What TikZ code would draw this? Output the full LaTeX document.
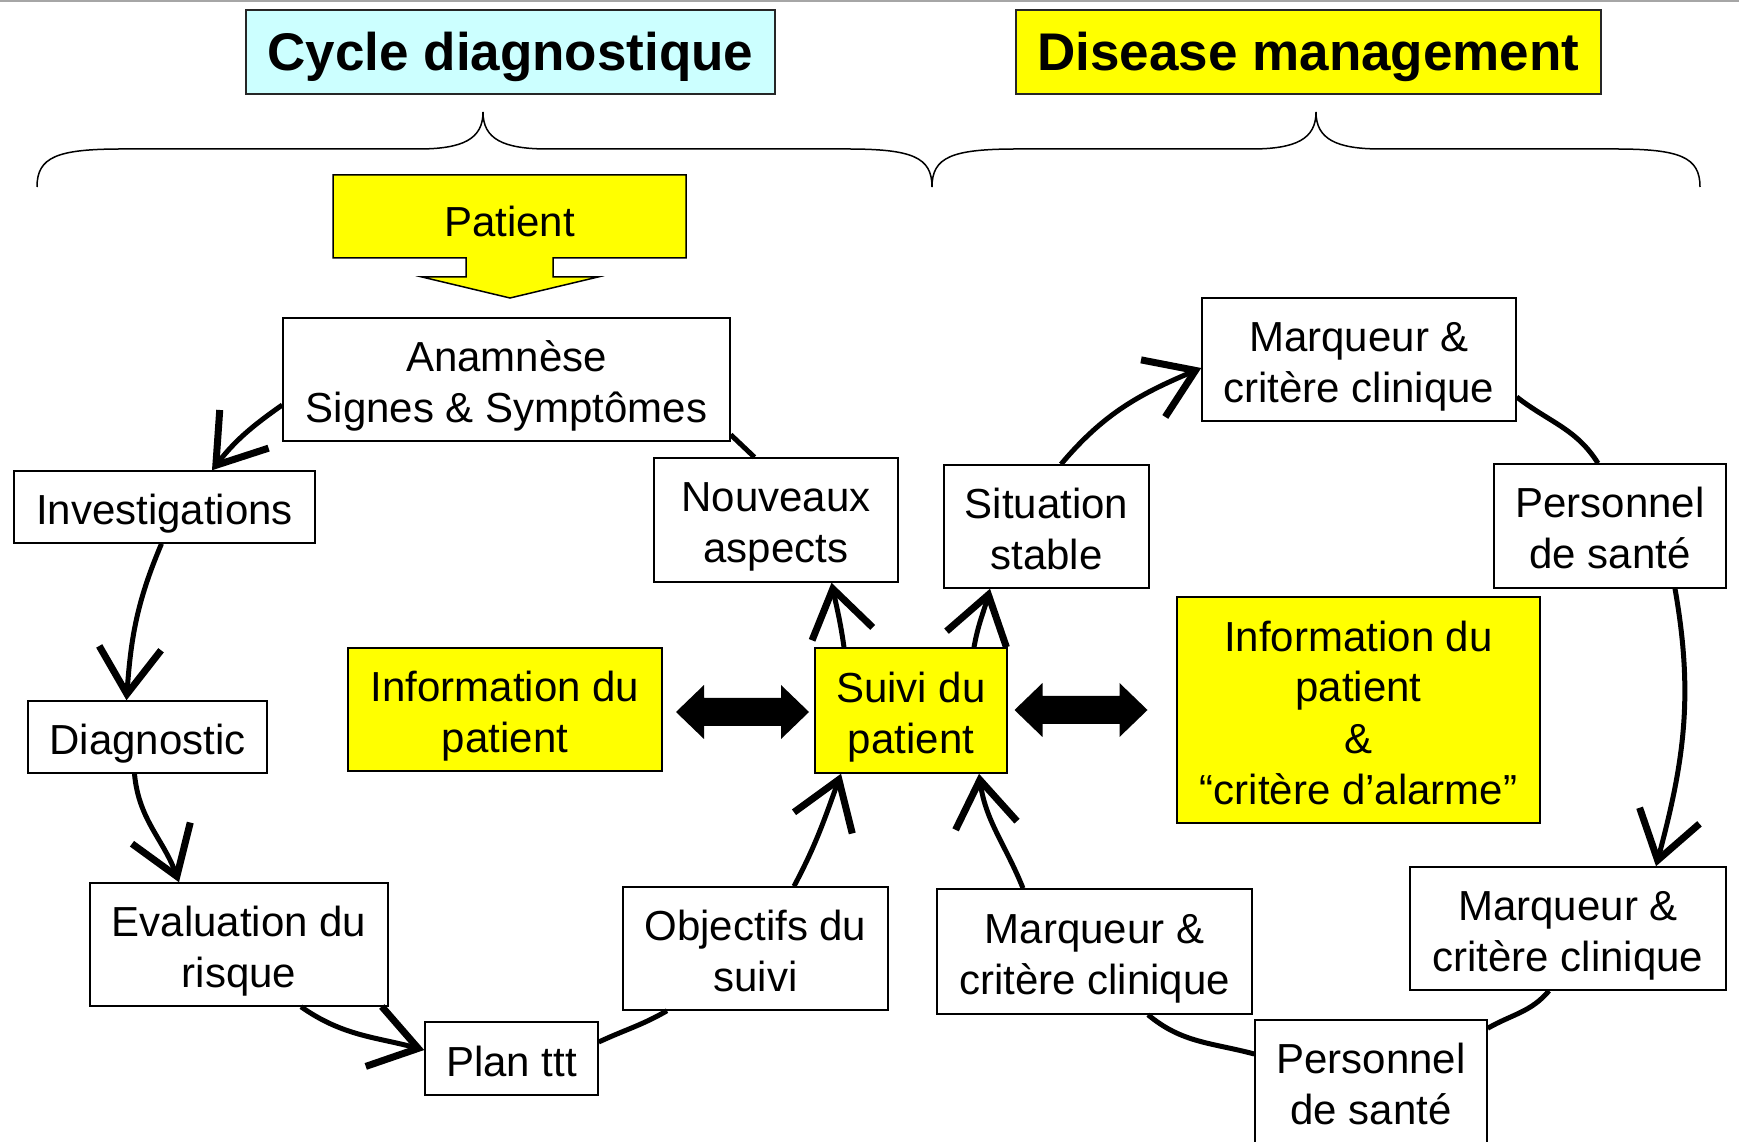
\documentclass[tikz,border=0pt]{standalone}
\usepackage{fontspec}
\setmainfont{Liberation Sans}
\usepackage{tikz}
\usetikzlibrary{arrows.meta, shapes, positioning, calc}
\usepackage{xcolor}
\definecolor{palecyan}{RGB}{204,255,255}
\definecolor{signalyellow}{RGB}{255,255,0}
\tikzset{strutheight/.style={execute at begin node={\rule[-9pt]{0pt}{#1}}},
bodytext/.style={font=\fontsize{42pt}{51pt}\selectfont},
plainbox/.style={rectangle, draw=black, line width=1.5pt, fill=white, inner sep=0pt, align=center, bodytext, strutheight=53pt},
yellowbox/.style={plainbox, fill=signalyellow}}
\tikzset{headerbox/.style={rectangle, draw=black!85, line width=2.5pt, inner sep=0pt, font=\fontsize{53pt}{60pt}\selectfont\bfseries, execute at begin node={\rule[-11pt]{0pt}{58.6pt}}}}
\tikzset{cyclearrow/.style={line width=5pt, -{Straight Barb[length=46pt, width=62pt, line width=7pt]}},
cycleline/.style={line width=5pt}}

\begin{document}
\begin{tikzpicture}[line join=miter]
        \useasboundingbox (0pt, 0pt) rectangle (1739pt, 1141pt);
        % Frame
        \draw[gray!70, line width=2.5pt] (0pt, 1140pt) -- (1739pt, 1140pt);
        % Headers
        \node[headerbox, fill=palecyan, minimum width=529pt, minimum height=84pt] (cycle) at (510.5pt, 1089pt) {Cycle diagnostique};
        \node[headerbox, fill=signalyellow, minimum width=585pt, minimum height=84pt] (management) at (1308.5pt, 1089pt) {Disease management};
        % Braces
        \foreach \a/\m/\b in {37/483/932, 932/1316/1700} {
            \draw[line width=1.5pt] (\a pt, 954pt) .. controls (\a pt, 984pt) and ({\a pt+20pt}, 992pt) .. ({\a pt+85pt}, 992pt) -- ({\m pt-65pt}, 992pt) .. controls ({\m pt-20pt}, 992pt) and (\m pt, 1002pt) .. (\m pt, 1029pt) .. controls (\m pt, 1002pt) and ({\m pt+20pt}, 992pt) .. ({\m pt+65pt}, 992pt) -- ({\b pt-85pt}, 992pt) .. controls ({\b pt-20pt}, 992pt) and (\b pt, 984pt) .. (\b pt, 954pt);
        }
        % Patient arrow
        \filldraw[fill=signalyellow, draw=black, line width=1.5pt] (333pt, 966pt) -- (686pt, 966pt) -- (686pt, 883pt) -- (553pt, 883pt) -- (553pt, 864pt) -- (598pt, 864pt) -- (510pt, 843pt) -- (422pt, 864pt) -- (466pt, 864pt) -- (466pt, 883pt) -- (333pt, 883pt) -- cycle;
        \node[bodytext, inner sep=0pt, strutheight=58pt] (patient) at (509.5pt, 924.5pt) {Patient};
        % Diagnostic cycle
        \node[plainbox, strutheight=104pt, minimum width=447pt, minimum height=123pt] (anamnese) at (506.5pt, 761.5pt) {Anamnèse\\Signes \& Symptômes};
        \node[plainbox, minimum width=301pt, minimum height=72pt] (investigations) at (164.5pt, 634pt) {Investigations};
        \node[plainbox, minimum width=239pt, minimum height=72pt] (diagnostic) at (147.5pt, 404pt) {Diagnostic};
        \node[plainbox, strutheight=104pt, minimum width=298pt, minimum height=123pt] (evaluation) at (239pt, 196.5pt) {Evaluation du\\risque};
        \node[plainbox, minimum width=173pt, minimum height=73pt] (plan) at (511.5pt, 82.5pt) {Plan ttt};
        \node[plainbox, strutheight=104pt, minimum width=265pt, minimum height=123pt] (objectifs) at (755.5pt, 192.5pt) {Objectifs du\\suivi};
        \node[plainbox, strutheight=104pt, minimum width=244pt, minimum height=124pt] (nouveaux) at (776pt, 621pt) {Nouveaux\\aspects};
        \node[yellowbox, strutheight=104pt, minimum width=314pt, minimum height=123pt] (infoleft) at (505pt, 431.5pt) {Information du\\patient};
        \node[yellowbox, strutheight=104pt, minimum width=192pt, minimum height=125pt] (suivi) at (911pt, 430.5pt) {Suivi du\\patient};
        % Management cycle
        \node[plainbox, strutheight=104pt, minimum width=205pt, minimum height=123pt] (situation) at (1046.5pt, 614.5pt) {Situation\\stable};
        \node[plainbox, strutheight=104pt, minimum width=314pt, minimum height=123pt] (marqueurtop) at (1359pt, 781.5pt) {Marqueur \&\\critère clinique};
        \node[plainbox, strutheight=104pt, minimum width=232pt, minimum height=124pt] (personneltop) at (1610pt, 615pt) {Personnel\\de santé};
        \node[yellowbox, strutheight=206pt, minimum width=363pt, minimum height=226pt] (inforight) at (1358.5pt, 431pt) {Information du\\patient\\\&\\“critère d’alarme”};
        \node[plainbox, strutheight=104pt, minimum width=316pt, minimum height=123pt] (marqueurright) at (1568pt, 212.5pt) {Marqueur \&\\critère clinique};
        \node[plainbox, strutheight=104pt, minimum width=232pt, minimum height=123pt] (personnelbottom) at (1371pt, 59.5pt) {Personnel\\de santé};
        \node[plainbox, strutheight=104pt, minimum width=315pt, minimum height=125pt] (marqueurmid) at (1094.5pt, 189.5pt) {Marqueur \&\\critère clinique};
        % Double arrows
        \foreach \cx/\cy in {742.5/429, 1081/431} {
            \fill[black] ({\cx pt-66.5pt}, \cy pt) -- ({\cx pt-38.5pt}, {\cy pt+27pt}) -- ({\cx pt-38.5pt}, {\cy pt+14pt}) -- ({\cx pt+38.5pt}, {\cy pt+14pt}) -- ({\cx pt+38.5pt}, {\cy pt+27pt}) -- ({\cx pt+66.5pt}, \cy pt) -- ({\cx pt+38.5pt}, {\cy pt-27pt}) -- ({\cx pt+38.5pt}, {\cy pt-14pt}) -- ({\cx pt-38.5pt}, {\cy pt-14pt}) -- ({\cx pt-38.5pt}, {\cy pt-27pt}) -- cycle;
        }
        % Connectors, diagnostic cycle
        \draw[cyclearrow] ($(anamnese.west)+(0pt,-25.5pt)$) to[out=215, in=52] ($(investigations.north)+(47.5pt,0pt)$);
        \draw[cyclearrow] ($(investigations.south)+(-3pt,0pt)$) to[out=247, in=86] ($(diagnostic.north)+(-21pt,0pt)$);
        \draw[cyclearrow] ($(diagnostic.south)+(-13pt,0pt)$) to[out=275, in=110] ($(evaluation.north)+(-60pt,0pt)$);
        \draw[cyclearrow] ($(evaluation.south)+(62pt,0pt)$) to[out=-35, in=165] ($(plan.west)+(0pt,8.5pt)$);
        \draw[cycleline] ($(plan.east)+(0pt,16.5pt)$) to[out=25, in=210] ($(objectifs.south)+(-88.5pt,0pt)$);
        \draw[cyclearrow] ($(objectifs.north)+(38.5pt,0pt)$) to[out=62, in=250] ($(suivi.south)+(-70pt,0pt)$);
        \draw[cyclearrow] ($(suivi.north)+(-67pt,0pt)$) to[out=98, in=282] ($(nouveaux.south)+(55.5pt,0pt)$);
        \draw[cycleline] ($(nouveaux.north)+(-21.5pt,0pt)$) -- ($(anamnese.south east)+(0pt,7pt)$);
        % Connectors, management cycle
        \draw[cyclearrow] ($(suivi.north)+(63pt,0pt)$) to[out=80, in=255] ($(situation.south)+(-56.5pt,0pt)$);
        \draw[cyclearrow] ($(situation.north)+(14.5pt,0pt)$) to[out=50, in=203] ($(marqueurtop.west)+(0pt,-8.5pt)$);
        \draw[cycleline] ($(marqueurtop.east)+(0pt,-37.5pt)$) to[out=-38, in=122] ($(personneltop.north)+(-12pt,0pt)$);
        \draw[cyclearrow] ($(personneltop.south)+(65pt,0pt)$) to[out=-80, in=75] ($(marqueurright.north)+(88pt,0pt)$);
        \draw[cycleline] ($(marqueurright.south)+(-19pt,0pt)$) to[out=230, in=30] ($(personnelbottom.north east)+(0pt,-9pt)$);
        \draw[cycleline] ($(personnelbottom.west)+(0pt,27.5pt)$) to[out=165, in=-40] ($(marqueurmid.south)+(53.5pt,0pt)$);
        \draw[cyclearrow] ($(marqueurmid.north)+(-71.5pt,0pt)$) to[out=112, in=-82] ($(suivi.south)+(68pt,0pt)$);
\end{tikzpicture}
\end{document}
